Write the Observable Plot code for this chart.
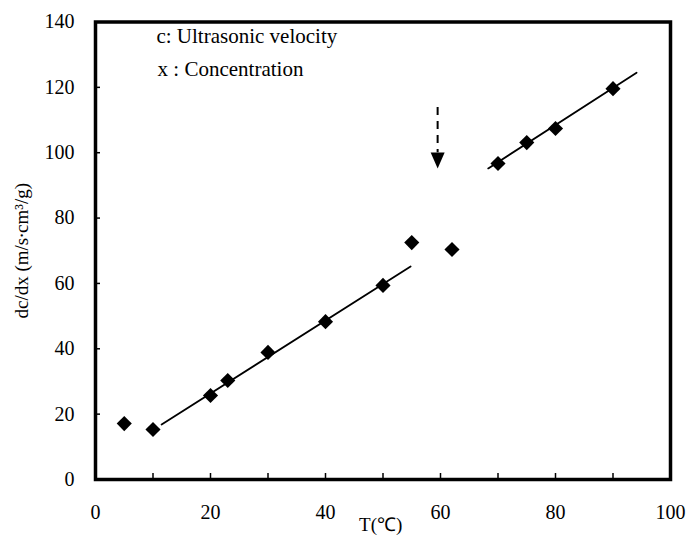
<!DOCTYPE html>
<html>
<head>
<meta charset="utf-8">
<script src="https://cdn.jsdelivr.net/npm/d3@7"></script>
<script src="https://cdn.jsdelivr.net/npm/@observablehq/plot@0.6"></script>
<style>
  html, body { margin: 0; padding: 0; background: #fff; }
</style>
</head>
<body>
<div id="chart"></div>
<script>
// Measured points: temperature (°C) vs dc/dx
const temps = [5, 10, 20, 23, 30, 40, 50, 55, 62, 70, 75, 80, 90];
const dcdx  = [17.1, 15.3, 25.7, 30.3, 38.9, 48.3, 59.4, 72.5, 70.4, 96.7, 103.1, 107.4, 119.6];

// Fitted line segments (end points)
const fitSeg = ["low", "low", "high", "high"];
const fitT   = [11.5, 54.8, 68.3, 94.1];
const fitV   = [16.8, 65.2, 95.2, 124.5];

// Transition arrow
const arrowT = [59.5];
const arrowTop = [113.8];
const arrowBase = [100.0];
const arrowHead = [97.6];

// Axis ticks
const xTickLabels = [0, 20, 40, 60, 80, 100];
const xMinorTicks = [10, 20, 30, 40, 50, 60, 70, 80, 90];
const yTickLabels = [0, 20, 40, 60, 80, 100, 120, 140];
const yMinorTicks = [20, 40, 60, 80, 100, 120];

// Annotation texts
const noteText = ["c: Ultrasonic velocity", "x : Concentration"];
const noteT = [10.6, 10.8];
const noteV = [135.6, 125.6];
const xLabel = "T(\u2103)";
const xLabelT = 49.6;
const yLabel = "dc/dx (m/s\u2219cm\u00b3/g)";
const yLabelV = 70;

const points = temps.map((t, i) => ({t, v: dcdx[i]}));
const fit = fitT.map((t, i) => ({t, v: fitV[i], s: fitSeg[i]}));
const notes = noteText.map((txt, i) => ({txt, t: noteT[i], v: noteV[i]}));
const arrow = arrowT.map((t, i) => ({t, top: arrowTop[i], base: arrowBase[i], head: arrowHead[i]}));

const downTriangle = {
  draw(ctx, size) {
    ctx.moveTo(-7, -8);
    ctx.lineTo(7, -8);
    ctx.lineTo(0, 8);
    ctx.closePath();
  }
};

const chart = Plot.plot({
  width: 690,
  height: 538,
  marginLeft: 95,
  marginRight: 20,
  marginTop: 21.5,
  marginBottom: 59,
  style: {fontFamily: "'Liberation Serif', 'Times New Roman', serif", fontSize: "20px", background: "#fff", color: "#000"},
  x: {domain: [0, 100]},
  y: {domain: [0, 140]},
  marks: [
    Plot.axisX({ticks: xTickLabels, tickSize: 0, tickPadding: 25, label: null, fontSize: 20}),
    Plot.axisX({ticks: xMinorTicks, tickSize: -6, tickFormat: () => "", label: null, strokeWidth: 1.5}),
    Plot.axisY({ticks: yTickLabels, tickSize: 0, tickPadding: 21, label: null, fontSize: 20}),
    Plot.axisY({ticks: yMinorTicks, tickSize: -5, tickFormat: () => "", label: null, strokeWidth: 1.5}),
    Plot.line(fit, {x: "t", y: "v", z: "s", stroke: "#000", strokeWidth: 1.8}),
    Plot.dot(points, {x: "t", y: "v", symbol: "diamond2", r: 6.8, fill: "#000", stroke: "none"}),
    Plot.ruleX(arrow, {x: "t", y1: "top", y2: "base", stroke: "#000", strokeWidth: 2, strokeDasharray: "8,6"}),
    Plot.dot(arrow, {x: "t", y: "head", symbol: downTriangle, fill: "#000", stroke: "none"}),
    Plot.text(notes, {x: "t", y: "v", text: "txt", textAnchor: "start", fontSize: 21, fill: "#000"}),
    Plot.text([xLabel], {x: xLabelT, frameAnchor: "bottom", textAnchor: "middle", lineAnchor: "middle", dy: 45, text: d => d, fontSize: 19, fill: "#000"}),
    Plot.text([yLabel], {y: yLabelV, frameAnchor: "left", textAnchor: "middle", lineAnchor: "middle", dx: -74, rotate: -90, text: d => d, fontSize: 19, fill: "#000"}),
    Plot.frame({stroke: "#000", strokeWidth: 3.5})
  ]
});
document.getElementById("chart").appendChild(chart);
</script>
</body>
</html>
